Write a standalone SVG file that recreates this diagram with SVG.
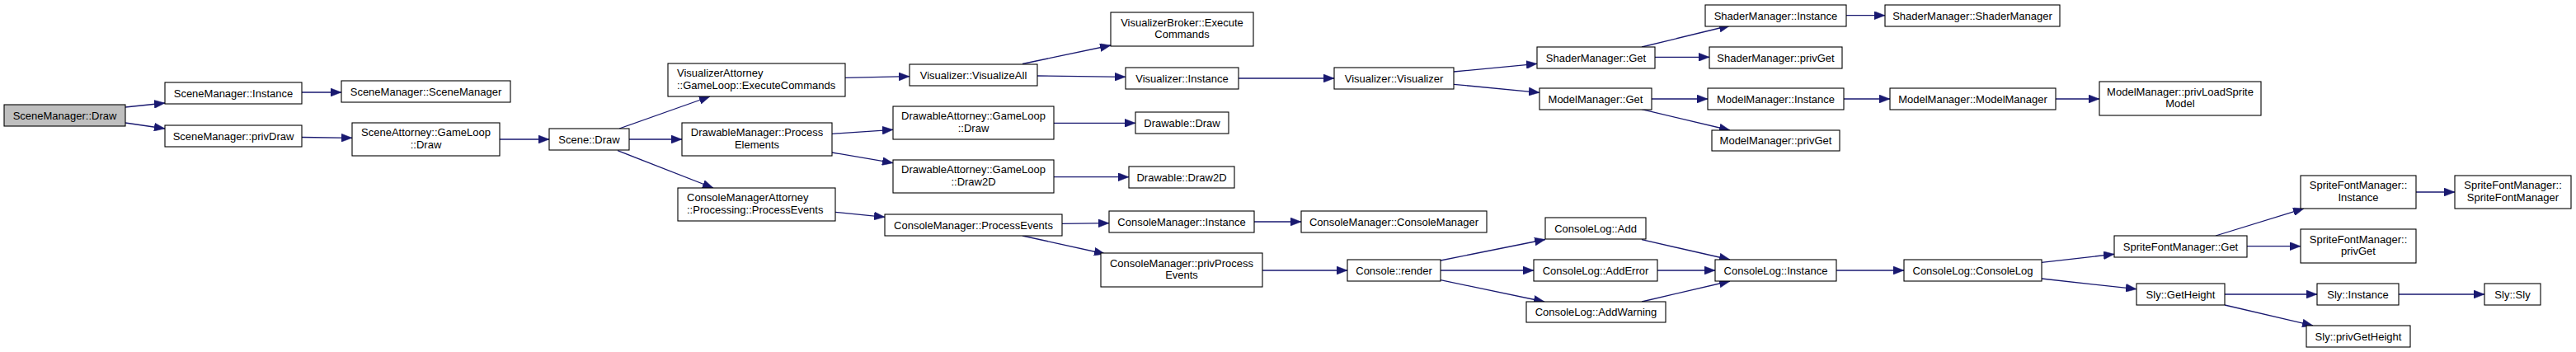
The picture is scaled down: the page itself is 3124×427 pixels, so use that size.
<svg xmlns="http://www.w3.org/2000/svg" width="3124" height="427" viewBox="0 0 3124 427">
<style>
.n rect{fill:#ffffff;stroke:#000000;stroke-width:1.1}
.root rect{fill:#bfbfbf}
.n text{font-family:"Liberation Sans",Arial,sans-serif;font-size:13px;fill:#000000;text-anchor:middle}
.n text.l{text-anchor:start}
.e path{fill:none;stroke:#191970;stroke-width:1.3;marker-end:url(#ah)}
</style>
<defs>
<marker id="ah" markerUnits="userSpaceOnUse" markerWidth="13" markerHeight="10" refX="13" refY="5" orient="auto">
<path d="M0,0 L13,5 L0,10 z" fill="#191970" stroke="#191970" stroke-width="0.5"/>
</marker>
</defs>
<rect width="3124" height="427" fill="#ffffff"/>
<g id="edges" class="e">
<path d="M152,130 L200,125"/>
<path d="M152,149 L200,156"/>
<path d="M366,112 L414,112"/>
<path d="M366,166.5 L427,167.3"/>
<path d="M606,169 L666,169"/>
<path d="M751,156 L861,117"/>
<path d="M763,169 L827,169"/>
<path d="M749,182.7 L865,228"/>
<path d="M1025,94.3 L1103,92.7"/>
<path d="M1009,162.3 L1083,157.3"/>
<path d="M1009,185 L1083,197.7"/>
<path d="M1013,257.3 L1073,263.3"/>
<path d="M1240,77.5 L1347,55"/>
<path d="M1258,92 L1365,93.3"/>
<path d="M1278,149.3 L1377,149.3"/>
<path d="M1278,214.7 L1369,214.7"/>
<path d="M1288,271.3 L1345,270.7"/>
<path d="M1240,286 L1340,308"/>
<path d="M1502,95 L1618,95"/>
<path d="M1763,87 L1864,77.3"/>
<path d="M1763,102.3 L1867,112.3"/>
<path d="M1521,269 L1578,269"/>
<path d="M1531,328 L1634,328"/>
<path d="M1747,316 L1874,290.5"/>
<path d="M1747,328 L1860,328"/>
<path d="M1747,339.7 L1873,366"/>
<path d="M1991,57 L2098,31"/>
<path d="M2007,69.3 L2073,69.3"/>
<path d="M2003,120 L2071,120"/>
<path d="M1991,132.7 L2098,158"/>
<path d="M2239,18.7 L2286,18.7"/>
<path d="M2236,120 L2292,120"/>
<path d="M2493,120 L2546,120"/>
<path d="M1991,290.7 L2098,315"/>
<path d="M2010,328 L2080,328"/>
<path d="M1991,366 L2098,341"/>
<path d="M2227,328 L2309,328"/>
<path d="M2476,318.3 L2564,308.3"/>
<path d="M2476,338 L2591,350.7"/>
<path d="M2687,286 L2794,253"/>
<path d="M2725,298.7 L2790,298.7"/>
<path d="M2930,233 L2977,233"/>
<path d="M2698,357 L2810,357"/>
<path d="M2698,370 L2805,395"/>
<path d="M2909,357 L3013,357"/>
</g>
<g id="n0" class="n root"><rect x="5" y="127" width="147" height="26"/><text x="78.5" y="144.5">SceneManager::Draw</text></g>
<g id="n1" class="n"><rect x="200" y="100" width="166" height="26"/><text x="283" y="117.5">SceneManager::Instance</text></g>
<g id="n2" class="n"><rect x="414" y="98" width="205" height="26"/><text x="516.5" y="115.5">SceneManager::SceneManager</text></g>
<g id="n3" class="n"><rect x="200" y="152" width="166" height="26"/><text x="283" y="169.5">SceneManager::privDraw</text></g>
<g id="n4" class="n"><rect x="427" y="149" width="179" height="40"/><text x="516.5" y="165">SceneAttorney::GameLoop</text><text x="516.5" y="179.5">::Draw</text></g>
<g id="n5" class="n"><rect x="666" y="156" width="97" height="26"/><text x="714.5" y="173.5">Scene::Draw</text></g>
<g id="n6" class="n"><rect x="810" y="77" width="215" height="40"/><text class="l" x="821" y="93">VisualizerAttorney</text><text class="l" x="821" y="107.5">::GameLoop::ExecuteCommands</text></g>
<g id="n7" class="n"><rect x="827" y="149" width="182" height="40"/><text x="918" y="165">DrawableManager::Process</text><text x="918" y="179.5">Elements</text></g>
<g id="n8" class="n"><rect x="822" y="228" width="191" height="40"/><text class="l" x="833" y="244">ConsoleManagerAttorney</text><text class="l" x="833" y="258.5">::Processing::ProcessEvents</text></g>
<g id="n9" class="n"><rect x="1103" y="78" width="155" height="26"/><text x="1180.5" y="95.5">Visualizer::VisualizeAll</text></g>
<g id="n10" class="n"><rect x="1083" y="129" width="195" height="40"/><text x="1180.5" y="145">DrawableAttorney::GameLoop</text><text x="1180.5" y="159.5">::Draw</text></g>
<g id="n11" class="n"><rect x="1083" y="194" width="195" height="40"/><text x="1180.5" y="210">DrawableAttorney::GameLoop</text><text x="1180.5" y="224.5">::Draw2D</text></g>
<g id="n12" class="n"><rect x="1073" y="260" width="215" height="26"/><text x="1180.5" y="277.5">ConsoleManager::ProcessEvents</text></g>
<g id="n13" class="n"><rect x="1347" y="15" width="173" height="41"/><text x="1433.5" y="31.5">VisualizerBroker::Execute</text><text x="1433.5" y="46">Commands</text></g>
<g id="n14" class="n"><rect x="1365" y="82" width="137" height="26"/><text x="1433.5" y="99.5">Visualizer::Instance</text></g>
<g id="n15" class="n"><rect x="1377" y="136" width="113" height="26"/><text x="1433.5" y="153.5">Drawable::Draw</text></g>
<g id="n16" class="n"><rect x="1369" y="202" width="128" height="26"/><text x="1433" y="219.5">Drawable::Draw2D</text></g>
<g id="n17" class="n"><rect x="1345" y="256" width="176" height="26"/><text x="1433" y="273.5">ConsoleManager::Instance</text></g>
<g id="n18" class="n"><rect x="1335" y="307" width="196" height="41"/><text x="1433" y="323.5">ConsoleManager::privProcess</text><text x="1433" y="338">Events</text></g>
<g id="n19" class="n"><rect x="1618" y="82" width="145" height="26"/><text x="1690.5" y="99.5">Visualizer::Visualizer</text></g>
<g id="n20" class="n"><rect x="1864" y="57" width="143" height="26"/><text x="1935.5" y="74.5">ShaderManager::Get</text></g>
<g id="n21" class="n"><rect x="1867" y="107" width="136" height="26"/><text x="1935" y="124.5">ModelManager::Get</text></g>
<g id="n22" class="n"><rect x="1578" y="256" width="225" height="26"/><text x="1690.5" y="273.5">ConsoleManager::ConsoleManager</text></g>
<g id="n23" class="n"><rect x="1634" y="315" width="113" height="26"/><text x="1690.5" y="332.5">Console::render</text></g>
<g id="n24" class="n"><rect x="1874" y="264" width="122" height="26"/><text x="1935" y="281.5">ConsoleLog::Add</text></g>
<g id="n25" class="n"><rect x="1860" y="315" width="150" height="26"/><text x="1935" y="332.5">ConsoleLog::AddError</text></g>
<g id="n26" class="n"><rect x="1851" y="366" width="169" height="25"/><text x="1935.5" y="383">ConsoleLog::AddWarning</text></g>
<g id="n27" class="n"><rect x="2068" y="6" width="171" height="26"/><text x="2153.5" y="23.5">ShaderManager::Instance</text></g>
<g id="n28" class="n"><rect x="2286" y="6" width="212" height="26"/><text x="2392" y="23.5">ShaderManager::ShaderManager</text></g>
<g id="n29" class="n"><rect x="2073" y="57" width="161" height="26"/><text x="2153.5" y="74.5">ShaderManager::privGet</text></g>
<g id="n30" class="n"><rect x="2071" y="107" width="165" height="26"/><text x="2153.5" y="124.5">ModelManager::Instance</text></g>
<g id="n31" class="n"><rect x="2292" y="107" width="201" height="26"/><text x="2392.5" y="124.5">ModelManager::ModelManager</text></g>
<g id="n32" class="n"><rect x="2546" y="99" width="196" height="41"/><text x="2644" y="115.5">ModelManager::privLoadSprite</text><text x="2644" y="130">Model</text></g>
<g id="n33" class="n"><rect x="2076" y="158" width="155" height="25"/><text x="2153.5" y="175">ModelManager::privGet</text></g>
<g id="n34" class="n"><rect x="2080" y="315" width="147" height="26"/><text x="2153.5" y="332.5">ConsoleLog::Instance</text></g>
<g id="n35" class="n"><rect x="2309" y="315" width="167" height="26"/><text x="2392.5" y="332.5">ConsoleLog::ConsoleLog</text></g>
<g id="n36" class="n"><rect x="2564" y="286" width="161" height="26"/><text x="2644.5" y="303.5">SpriteFontManager::Get</text></g>
<g id="n37" class="n"><rect x="2591" y="344" width="107" height="26"/><text x="2644.5" y="361.5">Sly::GetHeight</text></g>
<g id="n38" class="n"><rect x="2790" y="213" width="140" height="40"/><text x="2860" y="229">SpriteFontManager::</text><text x="2860" y="243.5">Instance</text></g>
<g id="n39" class="n"><rect x="2977" y="213" width="141" height="40"/><text x="3047.5" y="229">SpriteFontManager::</text><text x="3047.5" y="243.5">SpriteFontManager</text></g>
<g id="n40" class="n"><rect x="2790" y="278" width="140" height="41"/><text x="2860" y="294.5">SpriteFontManager::</text><text x="2860" y="309">privGet</text></g>
<g id="n41" class="n"><rect x="2810" y="344" width="99" height="26"/><text x="2859.5" y="361.5">Sly::Instance</text></g>
<g id="n42" class="n"><rect x="3013" y="344" width="68" height="26"/><text x="3047" y="361.5">Sly::Sly</text></g>
<g id="n43" class="n"><rect x="2797" y="395" width="126" height="26"/><text x="2860" y="412.5">Sly::privGetHeight</text></g>
</svg>
